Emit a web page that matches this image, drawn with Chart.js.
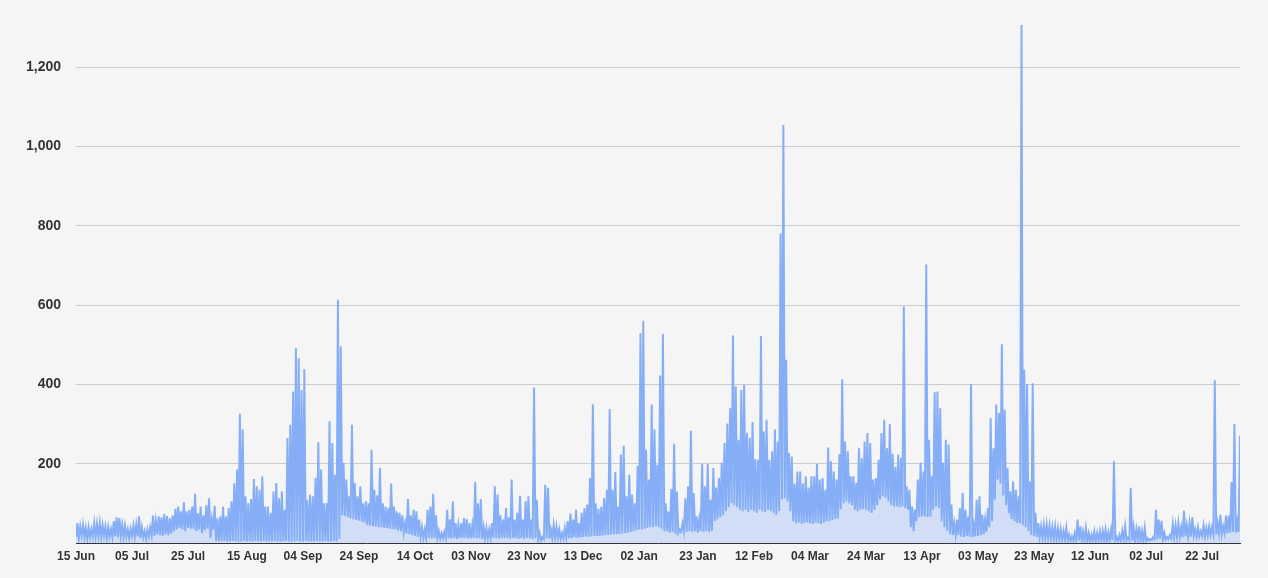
<!DOCTYPE html>
<html lang="en">
<head>
    <meta charset="UTF-8">
    <title>Daily activity</title>
    <script src="https://cdn.jsdelivr.net/npm/chart.js@4.4.1/dist/chart.umd.min.js"></script>
    <style>
        html, body { margin: 0; padding: 0; background: #f5f5f5; }
        #wrap { width: 1268px; height: 578px; position: relative; }
    </style>
</head>
<body>
<div id="wrap"><canvas id="chart"></canvas></div>
<script>
    // First day of the series
    const startDate = '2022-06-15';

    // Axis ticks (dates and their labels)
    const tickDates = ['2022-06-15', '2022-07-05', '2022-07-25', '2022-08-15', '2022-09-04', '2022-09-24',
        '2022-10-14', '2022-11-03', '2022-11-23', '2022-12-13', '2023-01-02', '2023-01-23', '2023-02-12',
        '2023-03-04', '2023-03-24', '2023-04-13', '2023-05-03', '2023-05-23', '2023-06-12', '2023-07-02',
        '2023-07-22'];
    const tickLabels = ['15 Jun', '05 Jul', '25 Jul', '15 Aug', '04 Sep', '24 Sep', '14 Oct', '03 Nov',
        '23 Nov', '13 Dec', '02 Jan', '23 Jan', '12 Feb', '04 Mar', '24 Mar', '13 Apr', '03 May', '23 May',
        '12 Jun', '02 Jul', '22 Jul'];
    const yTicks = [200, 400, 600, 800, 1000, 1200];

    // Daily peak values, one per day from 15 Jun
    const dailyHigh = [
        50, 42, 46, 38, 40, 35, 50, 48, 50, 45,
        42, 40, 35, 55, 65, 63, 46, 44, 34, 36,
        44, 46, 67, 40, 30, 34, 40, 69, 55, 67,
        65, 73, 68, 62, 70, 86, 92, 80, 103, 80,
        84, 92, 124, 75, 92, 70, 95, 113, 60, 94,
        62, 67, 92, 67, 88, 105, 150, 185, 326, 286,
        118, 100, 111, 161, 143, 134, 168, 92, 92, 76,
        130, 151, 113, 130, 84, 265, 298, 382, 491, 466,
        386, 438, 109, 122, 118, 164, 254, 185, 100, 100,
        307, 252, 172, 613, 496, 202, 160, 118, 298, 151,
        118, 143, 100, 105, 100, 235, 134, 120, 189, 100,
        92, 88, 150, 92, 80, 76, 70, 50, 111, 70,
        84, 80, 59, 40, 34, 84, 92, 124, 70, 30,
        25, 28, 84, 60, 105, 50, 45, 50, 63, 60,
        50, 45, 154, 100, 111, 40, 38, 34, 50, 143,
        122, 70, 60, 88, 65, 160, 59, 76, 119, 59,
        105, 118, 59, 392, 109, 25, 15, 147, 139, 34,
        46, 42, 34, 25, 38, 55, 74, 59, 84, 50,
        76, 88, 97, 164, 350, 100, 86, 92, 113, 134,
        338, 134, 179, 92, 223, 245, 118, 172, 122, 100,
        195, 529, 560, 235, 160, 350, 286, 197, 422, 527,
        100, 80, 136, 250, 130, 34, 50, 113, 143, 283,
        126, 67, 60, 200, 143, 199, 109, 189, 140, 164,
        202, 252, 301, 340, 523, 395, 260, 386, 399, 277,
        265, 305, 212, 210, 522, 281, 311, 210, 231, 286,
        256, 781, 1054, 462, 227, 218, 150, 180, 180, 150,
        168, 140, 168, 168, 200, 160, 164, 134, 241, 206,
        180, 160, 224, 413, 256, 231, 168, 168, 151, 239,
        214, 256, 277, 252, 160, 164, 210, 277, 311, 239,
        300, 225, 192, 223, 214, 596, 143, 134, 92, 84,
        160, 203, 180, 702, 260, 168, 380, 382, 340, 202,
        260, 248, 97, 50, 59, 88, 126, 84, 67, 401,
        46, 109, 118, 71, 59, 88, 315, 239, 349, 328,
        501, 336, 189, 130, 155, 134, 118, 1306, 437, 400,
        155, 403, 76, 50, 42, 46, 46, 44, 40, 42,
        37, 35, 30, 38, 21, 17, 25, 59, 42, 29,
        38, 25, 21, 29, 25, 29, 30, 34, 27, 34,
        206, 15, 20, 30, 42, 13, 139, 40, 35, 42,
        30, 38, 12, 10, 15, 84, 59, 56, 25, 15,
        20, 48, 45, 50, 40, 81, 45, 50, 65, 35,
        40, 30, 45, 38, 42, 40, 410, 50, 71, 42,
        69, 69, 154, 300, 55, 271
    ];

    // Daily low values, one per day from 15 Jun
    const dailyLow = [
        15, 12, 18, 14, 10, 14, 16, 15, 17, 14,
        18, 12, 16, 15, 17, 14, 18, 15, 16, 12,
        18, 15, 17, 12, 14, 10, 16, 20, 18, 22,
        20, 18, 22, 20, 24, 30, 35, 38, 34, 30,
        38, 36, 35, 30, 34, 25, 32, 36, 12, 34,
        5, 4, 4, 5, 3, 4, 5, 4, 3, 4,
        5, 4, 4, 3, 5, 4, 4, 5, 3, 4,
        4, 5, 3, 4, 4, 5, 4, 3, 4, 5,
        4, 3, 5, 4, 4, 3, 5, 4, 4, 5,
        3, 4, 5, 4, 10, 70, 68, 65, 62, 60,
        58, 56, 54, 52, 45, 44, 42, 42, 40, 40,
        38, 38, 36, 35, 34, 32, 30, 26, 24, 22,
        20, 18, 16, 14, 12, 12, 13, 11, 12, 12,
        11, 12, 13, 12, 11, 12, 10, 12, 13, 12,
        11, 12, 13, 12, 12, 10, 11, 12, 12, 13,
        12, 11, 12, 13, 12, 11, 12, 12, 10, 12,
        11, 13, 12, 10, 12, 8, 6, 10, 12, 11,
        12, 13, 12, 10, 12, 13, 12, 13, 14, 13,
        14, 15, 16, 16, 17, 18, 18, 18, 19, 20,
        20, 21, 22, 22, 23, 24, 25, 26, 28, 30,
        32, 34, 34, 36, 38, 40, 40, 42, 40, 36,
        30, 30, 26, 28, 22, 25, 28, 30, 28, 30,
        28, 30, 27, 30, 28, 30, 28, 30, 55, 60,
        65, 70, 80, 90, 100, 95, 90, 84, 80, 84,
        78, 84, 80, 76, 84, 80, 78, 84, 80, 76,
        70, 80, 110, 113, 105, 80, 55, 50, 52, 48,
        50, 52, 50, 48, 52, 50, 48, 52, 55, 55,
        58, 60, 62, 85, 100, 105, 100, 95, 84, 80,
        84, 86, 84, 80, 76, 84, 95, 110, 118, 115,
        105, 95, 92, 92, 90, 92, 88, 84, 40, 30,
        55, 65, 67, 67, 65, 67, 84, 92, 88, 55,
        40, 30, 22, 20, 20, 20, 16, 15, 18, 16,
        15, 17, 18, 20, 22, 28, 40, 55, 110, 160,
        150, 120, 95, 75, 60, 55, 50, 50, 45, 40,
        30, 20, 17, 15, 14, 13, 12, 12, 11, 10,
        10, 9, 8, 8, 6, 5, 6, 7, 6, 5,
        6, 5, 4, 6, 5, 6, 5, 6, 5, 6,
        7, 6, 5, 6, 8, 6, 7, 6, 5, 7,
        6, 5, 5, 6, 8, 10, 9, 11, 8, 9,
        10, 12, 14, 15, 16, 14, 17, 15, 16, 18,
        16, 17, 18, 16, 18, 20, 22, 21, 24, 22,
        25, 24, 26, 28, 26, 28
    ];

    const DAY = 86400000;
    const tickDays = tickDates.map(d => Math.round((Date.parse(d) - Date.parse(startDate)) / DAY));

    // low then high inside each day, so the line zigzags like the hourly source
    const points = [];
    for (let d = 0; d < dailyHigh.length; d++) {
        points.push({ x: d, y: dailyLow[d] });
        points.push({ x: d + 0.5, y: dailyHigh[d] });
    }

    const textColor = '#333';
    const fontFamily = '"Liberation Sans", Arial, sans-serif';

    new Chart(document.getElementById('chart'), {
        type: 'line',
        data: {
            datasets: [{
                data: points,
                borderColor: '#86aef6',
                backgroundColor: 'rgba(134, 174, 246, 0.32)',
                borderWidth: 2,
                fill: 'origin',
                pointRadius: 0,
                tension: 0,
                borderJoinStyle: 'miter'
            }]
        },
        options: {
            responsive: true,
            maintainAspectRatio: false,
            animation: false,
            events: [],
            layout: { padding: { top: 16, right: 28, left: 0, bottom: 0 } },
            plugins: {
                legend: { display: false },
                tooltip: { enabled: false }
            },
            scales: {
                x: {
                    type: 'linear',
                    min: 0,
                    max: dailyHigh.length - 0.5,
                    z: 1,
                    grid: { drawOnChartArea: false, drawTicks: false },
                    border: { display: true, color: '#333', width: 1 },
                    afterBuildTicks: scale => {
                        scale.ticks = tickDays.map(v => ({ value: v }));
                    },
                    afterFit: scale => { scale.height = 35; },
                    ticks: {
                        autoSkip: false,
                        maxRotation: 0,
                        padding: 6,
                        color: textColor,
                        font: { family: fontFamily, size: 12, weight: 'bold' },
                        callback: value => {
                            const i = tickDays.indexOf(value);
                            return i >= 0 ? tickLabels[i] : '';
                        }
                    }
                },
                y: {
                    min: 0,
                    max: 1310,
                    grid: { color: '#cccccc', drawTicks: false },
                    border: { display: false },
                    afterBuildTicks: scale => {
                        scale.ticks = yTicks.map(v => ({ value: v }));
                    },
                    afterFit: scale => { scale.width = 76; },
                    ticks: {
                        padding: 15,
                        color: textColor,
                        font: { family: fontFamily, size: 14, weight: 'bold' },
                        callback: value => value.toLocaleString('en-US')
                    }
                }
            }
        }
    });
</script>
</body>
</html>
